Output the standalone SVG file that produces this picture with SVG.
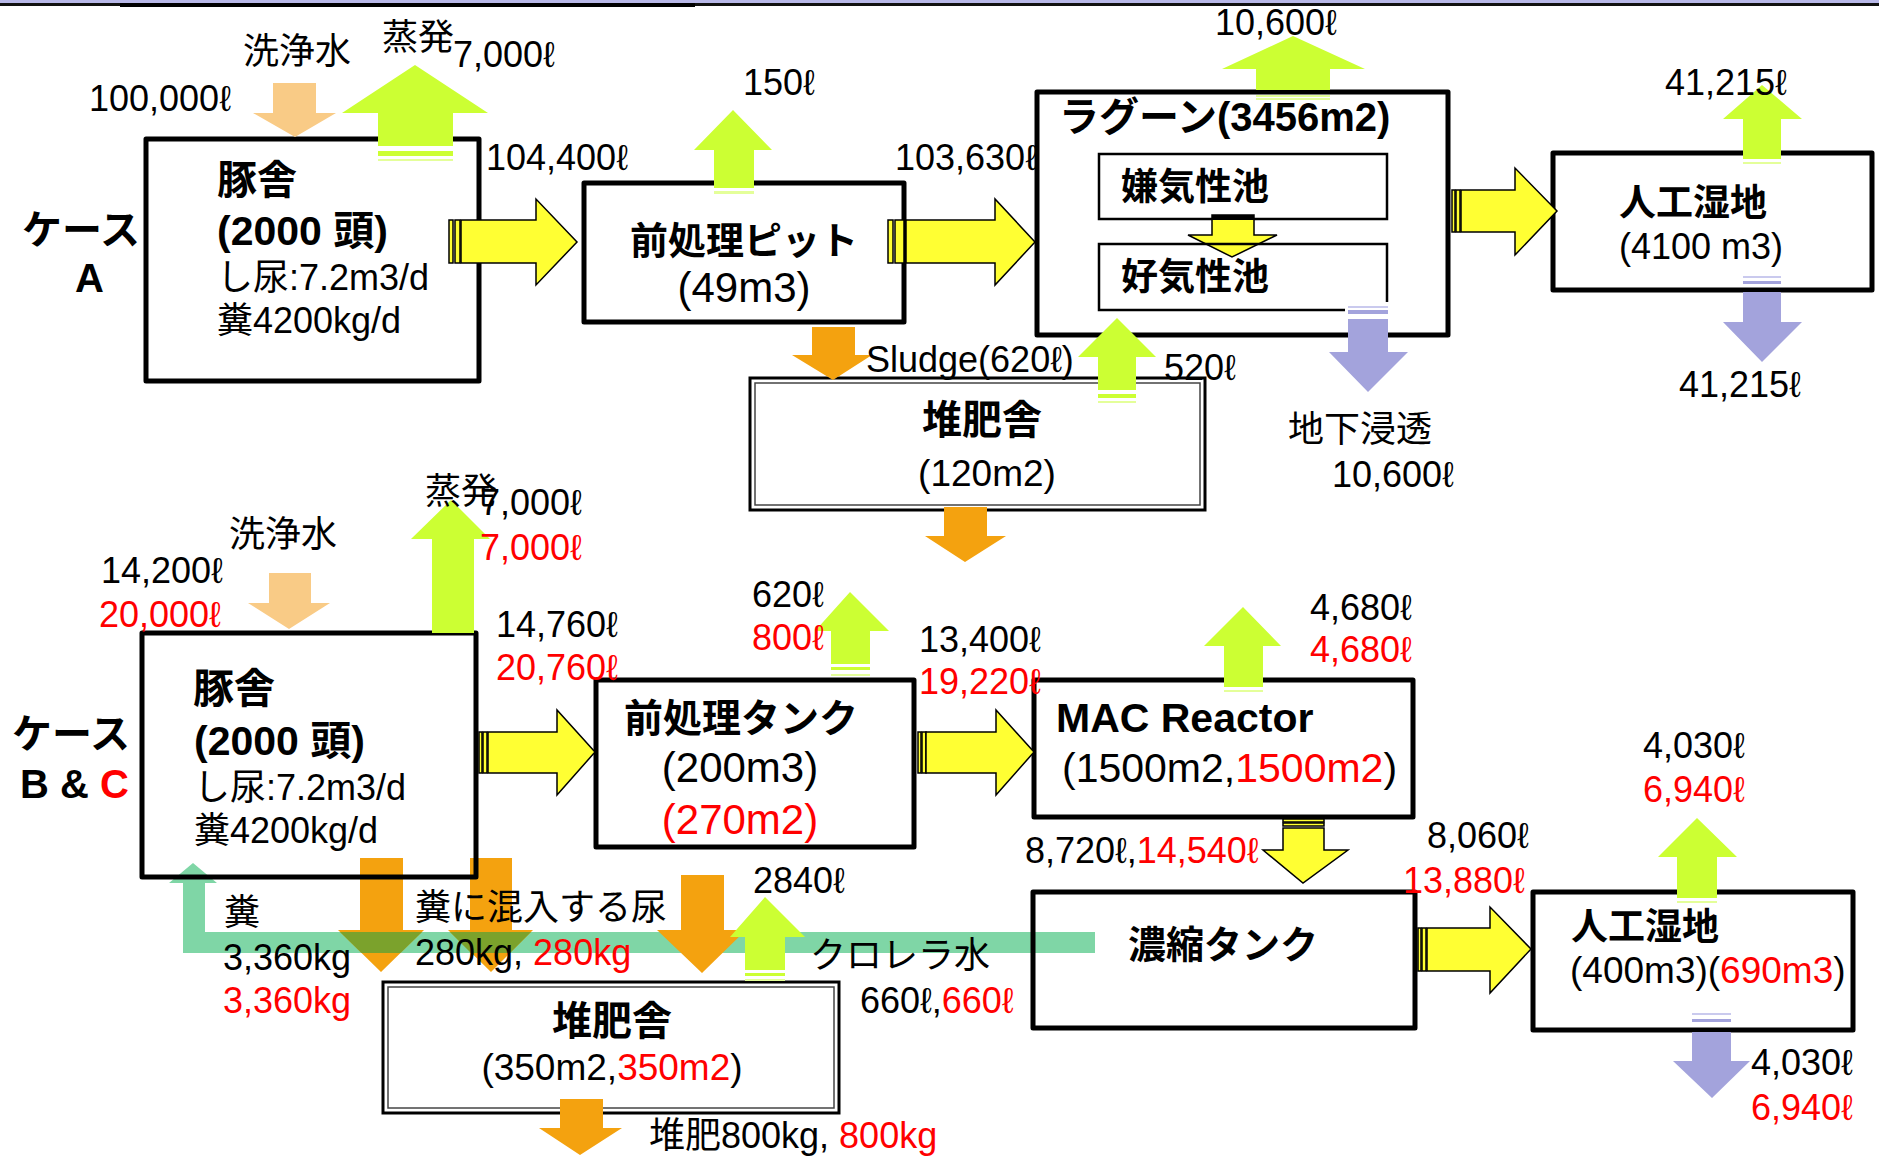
<svg xmlns="http://www.w3.org/2000/svg" width="1879" height="1158" viewBox="0 0 1879 1158">
<style>
.t{font-family:'Liberation Sans','Noto Sans CJK JP',sans-serif;font-size:36px;fill:#000}
.b{font-weight:bold}
.r{fill:#ff0000}
.m{text-anchor:middle}
.f37{font-size:37px}
.f38{font-size:38px}
.f39{font-size:39px}
.f40{font-size:40px}
.f41{font-size:41px}
.f42{font-size:42px}
.box{fill:#fff;stroke:#000;stroke-width:5;stroke-linejoin:round}
.boxn{fill:none;stroke:#000;stroke-width:5;stroke-linejoin:round}
.dbo{fill:#fff;stroke:#000;stroke-width:3}
.dbi{fill:none;stroke:#444;stroke-width:1.5}
.inn{fill:none;stroke:#000;stroke-width:2.5}
.ya{fill:#ffff33;stroke:#000;stroke-width:1.5;stroke-linejoin:miter}
.g{fill:#ccff33}
.gl{fill:#e4ff99}
.o{fill:#f4a20f}
.ol{fill:#7ba22c}
.p{fill:#f9cb86}
.l{fill:#a3a3dc}
.ll{fill:#cacaee}
.tl{fill:#7fd6a6}
</style>
<rect x="0" y="0" width="1879" height="1158" fill="#fff"/>
<g id="topline">
<rect x="0" y="0" width="1879" height="3" fill="#b8b8e8"/>
<rect x="0" y="3" width="1879" height="3" fill="#111"/>
<rect x="120" y="3" width="575" height="4" fill="#000"/>
</g>

<g id="connectors-back">
<polygon class="tl" points="193,863 217,883 205,883 205,932 1095,932 1095,953 183,953 183,883 169,883"/>
<polygon class="o" points="360,858 403,858 403,930 424,930 381,972 338,930 360,930"/>
<polygon class="ol" points="340,932 422,932 400.5,953 361.5,953"/>
<polygon class="o" points="470,858 512,858 512,930 533,930 491,972 448,930 470,930"/>
<polygon class="ol" points="450,932 531,932 510,953 471,953"/>
</g>

<g id="node-tonsha-a">
<rect class="box" x="146" y="139" width="333" height="242"/>
<text class="t b f40" x="217" y="194">豚舎</text>
<text class="t b f41" x="217" y="245">(2000 頭)</text>
<text class="t" x="217" y="290">し尿:7.2m3/d</text>
<text class="t" x="217" y="333">糞4200kg/d</text>
</g>
<g id="node-pit-a">
<rect class="box" x="584" y="183" width="320" height="139"/>
<text class="t b m f38" x="744" y="254">前処理ピット</text>
<text class="t m f42" x="744" y="302">(49m3)</text>
</g>
<g id="node-compost-a">
<rect class="dbo" x="750" y="378" width="455" height="132"/>
<rect class="dbi" x="755" y="383" width="445" height="122"/>
<text class="t b m f40" x="982" y="434">堆肥舎</text>
<text class="t m f37" x="987" y="486">(120m2)</text>
</g>
<g id="node-lagoon-a">
<rect class="box" x="1037" y="92" width="411" height="243"/>
<text class="t b f40" x="1059" y="131">ラグーン(3456m2)</text>
<rect class="inn" x="1099" y="154" width="288" height="65" fill="#fff"/>
<text class="t b f37" x="1121" y="200">嫌気性池</text>
</g>
<g id="node-wetland-a">
<rect class="box" x="1553" y="153" width="319" height="137"/>
<text class="t b f37" x="1619" y="216">人工湿地</text>
<text class="t" x="1619" y="259">(4100 m3)</text>
</g>
<g id="node-tonsha-b">
<rect class="boxn" x="142" y="633" width="334" height="244"/>
<text class="t b f41" x="193" y="703">豚舎</text>
<text class="t b f41" x="194" y="755">(2000 頭)</text>
<text class="t" x="194" y="800">し尿:7.2m3/d</text>
<text class="t" x="194" y="843">糞4200kg/d</text>
</g>
<g id="node-tank-b">
<rect class="box" x="596" y="680" width="318" height="167"/>
<text class="t b m f39" x="741" y="732">前処理タンク</text>
<text class="t m f42" x="740" y="782">(200m3)</text>
<text class="t m r f42" x="740" y="834">(270m2)</text>
</g>
<g id="node-mac-b">
<rect class="box" x="1034" y="680" width="379" height="137"/>
<text class="t b f41" x="1056" y="732">MAC Reactor</text>
<text class="t f41" x="1062" y="782">(1500m2,<tspan class="r">1500m2</tspan>)</text>
</g>
<g id="node-concentrate-b">
<rect class="boxn" x="1033" y="892" width="382" height="136"/>
<text class="t b m f38" x="1223" y="958">濃縮タンク</text>
</g>
<g id="node-wetland-b">
<rect class="box" x="1533" y="892" width="320" height="138"/>
<text class="t b f37" x="1571" y="940">人工湿地</text>
<text class="t f37" x="1570" y="983">(400m3)(<tspan class="r">690m3</tspan>)</text>
</g>
<g id="node-compost-b">
<rect class="dbo" x="383" y="982" width="456" height="131"/>
<rect class="dbi" x="388" y="987" width="446" height="121"/>
<text class="t b m f40" x="612" y="1035">堆肥舎</text>
<text class="t m f37" x="612" y="1080">(350m2,<tspan class="r">350m2</tspan>)</text>
</g>

<g id="connectors">
<!-- Case A -->
<polygon class="p" points="273,83 316,83 316,113 336,113 295,137 253,113 273,113"/>
<polygon class="g" points="415,65 488,113 453,113 453,146 378,146 378,113 342,113"/>
<rect class="g" x="378" y="151" width="75" height="5"/>
<rect class="gl" x="378" y="159" width="75" height="2"/>
<rect class="ya" x="449" y="220" width="4" height="43"/>
<rect class="ya" x="455" y="220" width="5" height="43"/>
<polygon class="ya" points="461,220 536,220 536,199 577,242 536,285 536,263 461,263"/>
<polygon class="g" points="733,110 772,150 754,150 754,188 714,188 714,150 694,150"/>
<rect class="gl" x="714" y="191" width="40" height="3"/>
<rect class="ya" x="888" y="220" width="5" height="43"/>
<rect class="ya" x="895" y="220" width="9" height="43"/>
<polygon class="ya" points="906,220 995,220 995,199 1035,242 995,285 995,263 906,263"/>
<polygon class="o" points="812,327 855,327 855,355 872,355 833,380 792,355 812,355"/>
<polygon class="g" points="1117,318 1156,357 1136,357 1136,390 1098,390 1098,357 1078,357"/>
<rect class="g" x="1098" y="394" width="38" height="4"/>
<rect class="gl" x="1098" y="401" width="38" height="2"/>
<polygon class="g" points="1293,36 1365,69 1330,69 1330,90 1256,90 1256,69 1222,69"/>
<rect class="gl" x="1256" y="95" width="74" height="2"/>
<rect class="gl" x="1256" y="98" width="74" height="2"/>
<polygon class="ya" points="1212,215 1254,215 1254,235 1277,235 1232,257 1188,235 1212,235"/>
<rect x="1212" y="215" width="42" height="5" fill="#000"/>
<rect class="inn" x="1099" y="244" width="288" height="66"/>
<rect x="1345" y="302" width="46" height="17" fill="#fff"/>
<rect class="ll" x="1348" y="306" width="40" height="2"/>
<rect class="l" x="1348" y="310" width="40" height="4"/>
<polygon class="l" points="1348,319 1388,319 1388,352 1408,352 1368,392 1329,352 1348,352"/>
<rect class="ya" x="1452" y="190" width="3" height="42"/>
<rect class="ya" x="1456" y="190" width="4" height="42"/>
<polygon class="ya" points="1461,190 1515,190 1515,168 1557,211 1515,255 1515,232 1461,232"/>
<polygon class="g" points="1762,85 1802,119 1781,119 1781,159 1743,159 1743,119 1723,119"/>
<rect class="gl" x="1743" y="162" width="38" height="2"/>
<rect class="ll" x="1743" y="276" width="38" height="2"/>
<rect class="l" x="1743" y="281" width="38" height="3"/>
<polygon class="l" points="1743,292 1781,292 1781,322 1802,322 1762,362 1723,322 1743,322"/>
<polygon class="o" points="944,507 987,507 987,536 1006,536 965,562 925,536 944,536"/>
<!-- Case B & C -->
<polygon class="p" points="269,573 311,573 311,603 330,603 289,629 248,603 269,603"/>
<polygon class="g" points="451,500 490,539 474,539 474,633 432,633 432,539 411,539"/>
<rect class="ya" x="479" y="732" width="3" height="41"/>
<rect class="ya" x="483" y="732" width="4" height="41"/>
<polygon class="ya" points="488,732 557,732 557,710 595,752 557,795 557,773 488,773"/>
<polygon class="g" points="850,592 889,631 870,631 870,664 831,664 831,631 815,631"/>
<rect class="g" x="831" y="667" width="39" height="3"/>
<rect class="gl" x="831" y="674" width="39" height="2"/>
<rect class="ya" x="918" y="732" width="3" height="41"/>
<rect class="ya" x="922" y="732" width="4" height="41"/>
<polygon class="ya" points="926,732 996,732 996,710 1034,752 996,795 996,773 926,773"/>
<polygon class="g" points="1243,607 1281,646 1263,646 1263,687 1224,687 1224,646 1204,646"/>
<rect class="gl" x="1224" y="690" width="39" height="2"/>
<rect class="ya" x="1283" y="819" width="41" height="3"/>
<rect class="ya" x="1283" y="823" width="41" height="3"/>
<polygon class="ya" points="1283,828 1324,828 1324,850 1348,850 1303,883 1263,850 1283,850"/>
<rect class="ya" x="1418" y="928" width="3" height="43"/>
<rect class="ya" x="1422" y="928" width="4" height="43"/>
<polygon class="ya" points="1427,928 1490,928 1490,907 1531,949 1490,993 1490,971 1427,971"/>
<polygon class="g" points="1697,818 1737,857 1717,857 1717,898 1677,898 1677,857 1658,857"/>
<rect class="gl" x="1677" y="901" width="40" height="2"/>
<rect class="ll" x="1692" y="1013" width="39" height="2"/>
<rect class="l" x="1692" y="1019" width="39" height="3"/>
<polygon class="l" points="1692,1032 1731,1032 1731,1061 1750,1061 1712,1098 1673,1061 1692,1061"/>
<polygon class="o" points="681,875 724,875 724,930 746,930 702,973 657,930 681,930"/>
<polygon class="g" points="765,897 805,937 785,937 785,970 745,970 745,937 730,937"/>
<rect class="g" x="745" y="973" width="40" height="3"/>
<rect class="gl" x="745" y="979" width="40" height="2"/>
<polygon class="o" points="560,1099 603,1099 603,1128 622,1128 580,1155 539,1128 560,1128"/>
</g>

<g id="node-lagoon-aerobic">
<text class="t b f37" x="1121" y="290">好気性池</text>
</g>

<g id="labels">
<text class="t b f40" x="22" y="244">ケース</text>
<text class="t b f40" x="75" y="292">A</text>
<text class="t" x="243" y="64">洗浄水</text>
<text class="t" x="89" y="111">100,000ℓ</text>
<text class="t" x="382" y="50">蒸発</text>
<text class="t" x="453" y="67">7,000ℓ</text>
<text class="t" x="486" y="170">104,400ℓ</text>
<text class="t" x="743" y="95">150ℓ</text>
<text class="t" x="895" y="170">103,630ℓ</text>
<text class="t" x="866" y="372">Sludge(620ℓ)</text>
<text class="t" x="1164" y="380">520ℓ</text>
<text class="t" x="1215" y="35">10,600ℓ</text>
<text class="t" x="1288" y="442">地下浸透</text>
<text class="t" x="1332" y="487">10,600ℓ</text>
<text class="t" x="1665" y="95">41,215ℓ</text>
<text class="t" x="1679" y="397">41,215ℓ</text>

<text class="t b f40" x="12" y="748">ケース</text>
<text class="t b f40" x="20" y="798">B &amp; <tspan class="r">C</tspan></text>
<text class="t" x="229" y="547">洗浄水</text>
<text class="t" x="101" y="583">14,200ℓ</text>
<text class="t r" x="99" y="627">20,000ℓ</text>
<text class="t" x="425" y="504">蒸発</text>
<text class="t" x="480" y="515">7,000ℓ</text>
<text class="t r" x="480" y="560">7,000ℓ</text>
<text class="t" x="496" y="637">14,760ℓ</text>
<text class="t r" x="496" y="680">20,760ℓ</text>
<text class="t" x="752" y="607">620ℓ</text>
<text class="t r" x="752" y="650">800ℓ</text>
<text class="t" x="919" y="652">13,400ℓ</text>
<text class="t r" x="919" y="694">19,220ℓ</text>
<text class="t" x="1310" y="620">4,680ℓ</text>
<text class="t r" x="1310" y="662">4,680ℓ</text>
<text class="t" x="1025" y="863">8,720ℓ,<tspan class="r">14,540ℓ</tspan></text>
<text class="t" x="1427" y="848">8,060ℓ</text>
<text class="t r" x="1403" y="893">13,880ℓ</text>
<text class="t" x="1643" y="758">4,030ℓ</text>
<text class="t r" x="1643" y="802">6,940ℓ</text>
<text class="t" x="1751" y="1075">4,030ℓ</text>
<text class="t r" x="1751" y="1120">6,940ℓ</text>
<text class="t" x="224" y="925">糞</text>
<text class="t" x="223" y="970">3,360kg</text>
<text class="t r" x="223" y="1013">3,360kg</text>
<text class="t" x="415" y="920">糞に混入する尿</text>
<text class="t" x="415" y="965">280kg, <tspan class="r">280kg</tspan></text>
<text class="t" x="753" y="893">2840ℓ</text>
<text class="t" x="810" y="968">クロレラ水</text>
<text class="t" x="860" y="1013">660ℓ,<tspan class="r">660ℓ</tspan></text>
<text class="t" x="649" y="1148">堆肥800kg, <tspan class="r">800kg</tspan></text>
</g>
</svg>
